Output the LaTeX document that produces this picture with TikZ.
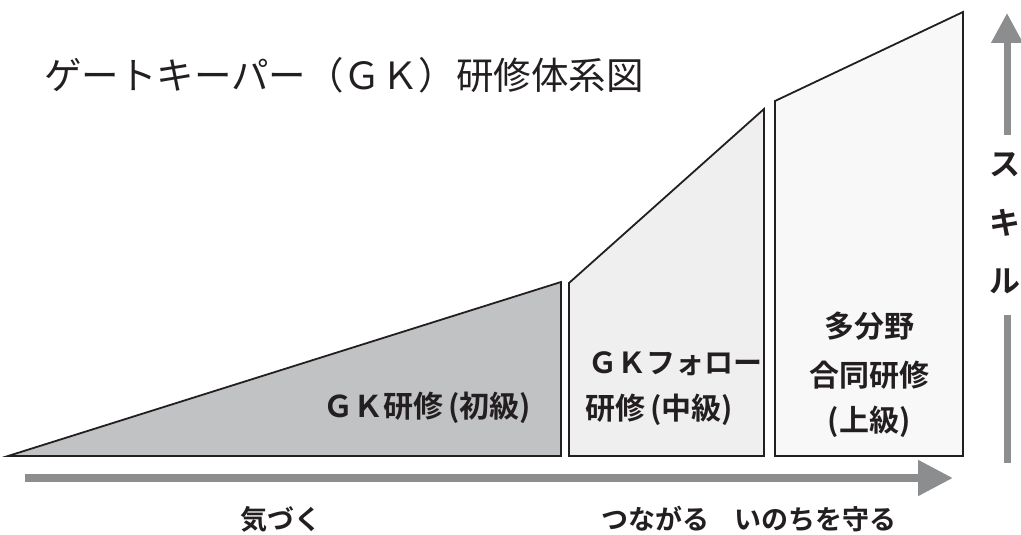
\documentclass[tikz,border=0pt]{standalone}
\usepackage{fontspec}
\newfontfamily\jp{Noto Sans CJK JP}
\newfontfamily\jpb{Noto Sans CJK JP Bold}
\usetikzlibrary{arrows.meta}
\definecolor{ink}{HTML}{231F20}
\definecolor{arrowgray}{HTML}{8C8D8F}
\definecolor{fillA}{HTML}{C1C2C4}
\definecolor{fillB}{HTML}{EFEFEF}
\definecolor{fillC}{HTML}{F8F8F8}
\tikzset{
  stage/.style={draw=ink, line width=1.8pt, line join=miter},
  lbl/.style={font=\jpb\fontsize{30}{36}\selectfont, text=ink, inner sep=0pt, align=center},
  axis/.style={draw=arrowgray, line width=8pt},
  axlbl/.style={font=\jpb\fontsize{27}{30}\selectfont, text=ink, inner sep=0pt},
  skill/.style={font=\jpb\fontsize{31}{31}\selectfont, text=ink, inner sep=0pt},
}
\begin{document}
\begin{tikzpicture}[x=1pt,y=-1pt]
\useasboundingbox (0,0) rectangle (1021,535);
% stages
\draw[stage, fill=fillA] (8,456) -- (561,282) -- (561,456) -- cycle;
\draw[stage, fill=fillB] (569,456) -- (569,283) -- (764,109) -- (764,456) -- cycle;
\draw[stage, fill=fillC] (775,456) -- (775,101) -- (963,12) -- (963,456) -- cycle;
% title
\node[font=\jp\fontsize{37.5}{40}\selectfont, text=ink, anchor=west, inner sep=0pt] (title) at (44,75) {ゲートキーパー（ＧＫ）研修体系図};
% stage labels
\node[lbl, anchor=east] (l1) at (531,408) {ＧＫ研修\,(初級)};
\node[lbl, anchor=west, font=\jpb\fontsize{29}{36}\selectfont] (l2a) at (588,364) {ＧＫフォロー};
\node[lbl, anchor=west] (l2b) at (585,410) {研修\,(中級)};
\node[lbl] (l3a) at (869,326) {多分野};
\node[lbl] (l3b) at (869,375) {合同研修};
\node[lbl] (l3c) at (869,422) {(上級)};
% horizontal axis
\coordinate (hs) at (25,478);
\coordinate (he) at (953,478);
\draw[axis, -{Triangle[length=35pt,width=34pt]}] (hs) -- (he);
% vertical axis
\coordinate (vs) at (1007,135);
\coordinate (ve) at (1007,13);
\coordinate (ls) at (1007,315);
\coordinate (le) at (1007,463);
\draw[axis, line width=7pt, -{Triangle[length=30pt,width=30pt]}] (vs) -- (ve);
\draw[axis, line width=7pt] (ls) -- (le);
\node[skill] (s1) at (1005,165) {ス};
\node[skill] (s2) at (1005,223) {キ};
\node[skill] (s3) at (1005,281) {ル};
% bottom labels
\node[axlbl] (b1) at (281,519) {気づく};
\node[axlbl] (b2) at (655,519) {つながる};
\node[axlbl] (b3) at (815,519) {いのちを守る};
\end{tikzpicture}
\end{document}
